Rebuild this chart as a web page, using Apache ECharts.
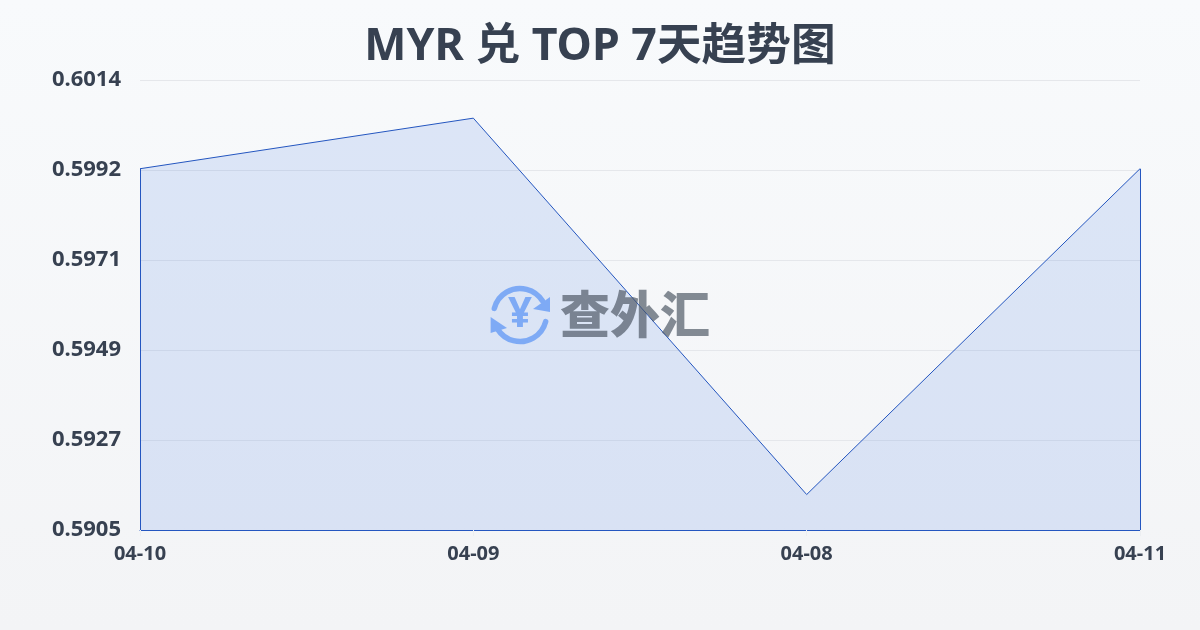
<!DOCTYPE html>
<html><head><meta charset="utf-8">
<style>html,body{margin:0;padding:0;background:#f5f7fa}#c{width:1200px;height:630px}</style>
<script src="https://cdn.jsdelivr.net/npm/echarts@6/dist/echarts.min.js"></script>
</head><body><div id="c"></div>
<script>
const titleText = 'MYR 兑 TOP 7天趋势图';
const categories = ['04-10', '04-09', '04-08', '04-11'];
const rates = [0.59926, 0.60048, 0.59140, 0.59926];
const yInterval = 0.00217112;
const yMin = 0.59054464;
const yMax = 0.60140024;
const watermark = '查外汇';
const latin = '"Noto Sans","Noto Sans CJK SC",sans-serif';
const ink = '#374151';
const blue = '#2456c0';
const edge = i => [{coord:[categories[i], yMin]},{coord:[categories[i], rates[i]]}];
const chart = echarts.init(document.getElementById('c'), null, {renderer:'canvas'});
const iconColor = '#8ab4f8';
chart.setOption({
  animation:false,
  backgroundColor:{type:'linear',x:0,y:0,x2:0,y2:1,colorStops:[{offset:0,color:'#f8fafc'},{offset:1,color:'#f3f4f6'}]},
  title:{text:titleText,left:'center',top:20,textStyle:{fontFamily:latin,fontWeight:'bold',fontSize:44.7,color:ink}},
  grid:{left:140,right:60,top:80,bottom:100},
  xAxis:{type:'category',boundaryGap:false,data:categories,
    axisLine:{show:true,lineStyle:{color:blue,width:1}},
    axisTick:{show:true,length:6,lineStyle:{color:'#eceef1'}},
    axisLabel:{show:true,interval:0,margin:14,fontFamily:latin,fontWeight:'bold',fontSize:20,color:ink,hideOverlap:false},
    splitLine:{show:false}},
  yAxis:{type:'value',min:yMin,max:yMax,interval:yInterval,
    axisLine:{show:false},axisTick:{show:false},
    axisLabel:{margin:19,fontFamily:latin,fontWeight:'bold',fontSize:22,color:ink,formatter:v=>v.toFixed(4)},
    splitLine:{show:true,lineStyle:{color:'#e5e7eb',width:1}}},
  series:[{type:'line',data:rates,symbol:'none',smooth:false,
    lineStyle:{color:blue,width:1},
    areaStyle:{color:'rgba(59,110,225,0.2)',origin:'start'},
    markLine:{silent:true,symbol:'none',label:{show:false},lineStyle:{color:blue,width:1,type:'solid'},
      data:[edge(0),edge(3)]}}],
  graphic:[
    {type:'group',x:490,y:285,z:100,silent:true,children:[
      {type:'arc',shape:{cx:30,cy:30,r:26.5,startAngle:Math.PI*1.08,endAngle:Math.PI*1.82},style:{stroke:iconColor,lineWidth:5.5,fill:null,lineCap:'round'}},
      {type:'arc',shape:{cx:30,cy:30,r:26.5,startAngle:Math.PI*0.08,endAngle:Math.PI*0.82},style:{stroke:iconColor,lineWidth:5.5,fill:null,lineCap:'round'}},
      {type:'polygon',shape:{points:[[60,12],[60,27],[43,24]]},style:{fill:iconColor}},
      {type:'polygon',shape:{points:[[0.6,32],[17,43],[0.6,48]]},style:{fill:iconColor}},
      {type:'text',style:{text:'¥',x:30,y:30,align:'center',verticalAlign:'middle',font:'bold 42px "Noto Sans",sans-serif',fill:iconColor}}
    ]},
    {type:'text',left:560,top:289,z:100,silent:true,style:{text:watermark,font:'900 50px "Noto Sans CJK SC",sans-serif',fill:'rgba(75,85,99,0.68)'}}
  ]
});
</script></body></html>
